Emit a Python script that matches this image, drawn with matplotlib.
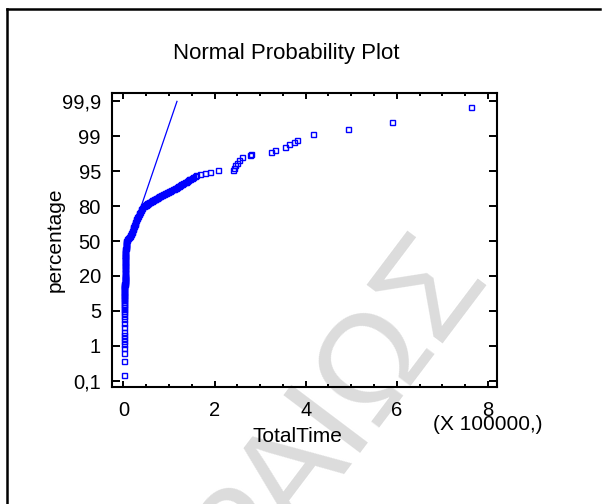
import numpy as np
import matplotlib
matplotlib.use("Agg")
import matplotlib.pyplot as plt
from matplotlib.lines import Line2D
from matplotlib.ticker import MultipleLocator, NullLocator
from statistics import NormalDist

# ---------------- data ----------------
# cumulative percentage of each observation and its TotalTime (in units of 100000)
pct_values = [
    0.15, 0.40, 0.64, 0.86, 1.08, 1.28, 1.48, 1.72, 1.94,
    2.5, 3, 3.5, 4, 4.5, 5, 5.5, 6, 6.5, 7, 7.5, 8, 8.5, 9, 9.5, 10,
    10.5, 11, 11.5, 12, 12.5, 13, 13.5, 14, 14.5, 15, 15.5, 16, 16.5, 17,
    17.5, 18, 18.5, 19, 19.5, 20,
    21, 22, 23, 24, 25, 26, 27, 28, 29, 30, 31, 32, 33, 34, 35, 36, 37, 38,
    39, 40, 41, 42, 43, 44, 45, 46, 47, 48, 49, 50,
    51, 52, 53, 54, 55, 56, 57, 58, 59, 60, 61, 62, 63, 64, 65, 66, 67, 68,
    69, 70, 71, 72, 73, 74, 75, 76, 77, 78, 79, 80,
    80.25, 80.5, 80.75, 81, 81.25, 81.5, 81.75, 82, 82.25, 82.5, 82.75, 83,
    83.25, 83.5, 83.75, 84, 84.25, 84.5, 84.75, 85, 85.25, 85.5, 85.75, 86,
    86.25, 86.5, 86.75, 87, 87.25, 87.5, 87.75, 88, 88.25, 88.5, 88.75, 89,
    89.25, 89.5, 89.75, 90, 90.25, 90.5, 90.75, 91, 91.25, 91.5, 91.75, 92,
    92.25, 92.5, 92.75, 93, 93.25, 93.5, 93.75, 94,
    94.3, 94.6, 94.85, 95.16,
    95.33, 95.70, 96.10, 96.46, 96.86, 97.21, 97.53, 97.61, 97.79, 98.02,
    98.26, 98.49, 98.67, 98.82, 99.12, 99.34, 99.59, 99.85,
]
time_values = [
    0.004, 0.004, 0.005, 0.005, 0.006, 0.006, 0.007, 0.007, 0.008,
    0.010, 0.011, 0.012, 0.013, 0.014, 0.015, 0.015, 0.016, 0.016, 0.017,
    0.017, 0.018, 0.018, 0.019, 0.019, 0.020,
    0.020, 0.021, 0.021, 0.022, 0.022, 0.023, 0.023, 0.023, 0.024, 0.024,
    0.025, 0.025, 0.025, 0.026, 0.026, 0.027, 0.027, 0.027, 0.028, 0.028,
    0.029, 0.029, 0.030, 0.030, 0.031, 0.031, 0.032, 0.032, 0.033, 0.033,
    0.034, 0.035, 0.036, 0.037, 0.038, 0.039, 0.040, 0.041, 0.042, 0.043,
    0.044, 0.046, 0.048, 0.050, 0.052, 0.055, 0.058, 0.061, 0.064, 0.068,
    0.072, 0.088, 0.104, 0.120, 0.136, 0.150, 0.162, 0.173, 0.184, 0.194,
    0.203, 0.212, 0.220, 0.228, 0.236, 0.244, 0.252, 0.260, 0.270, 0.280,
    0.290, 0.302, 0.316, 0.332, 0.347, 0.362, 0.377, 0.393, 0.412, 0.440,
    0.452, 0.465, 0.478, 0.490, 0.500, 0.510, 0.520, 0.530, 0.547, 0.565,
    0.582, 0.600, 0.617, 0.635, 0.652, 0.670, 0.685, 0.700, 0.717, 0.735,
    0.752, 0.770, 0.790, 0.810, 0.830, 0.850, 0.870, 0.890, 0.912, 0.935,
    0.957, 0.980, 1.005, 1.030, 1.055, 1.080, 1.105, 1.130, 1.150, 1.170,
    1.190, 1.210, 1.235, 1.260, 1.287, 1.315, 1.342, 1.370, 1.395, 1.420,
    1.445, 1.470, 1.500, 1.530, 1.565, 1.600,
    1.680, 1.800, 1.890, 2.080,
    2.404, 2.417, 2.454, 2.492, 2.527, 2.601, 2.782, 2.805, 3.243, 3.331,
    3.550, 3.638, 3.747, 3.807, 4.170, 4.937, 5.888, 7.620,
]

# fitted normal line (TotalTime, percentage)
fit_time = [0.0, 1.176]
fit_pct = [33.7, 99.9]

ytick_pct = [0.1, 1, 5, 20, 50, 80, 95, 99, 99.9]
ytick_labels = ["0,1", "1", "5", "20", "50", "80", "95", "99", "99,9"]
xtick_vals = [0, 2, 4, 6, 8]
xtick_labels = ["0", "2", "4", "6", "8"]

# ---------------- probability scale ----------------
nd = NormalDist()
tick_z = np.array([nd.inv_cdf(p / 100.0) for p in ytick_pct])
tick_k = np.arange(len(ytick_pct), dtype=float)
_inv = np.vectorize(lambda v: nd.inv_cdf(v / 100.0), otypes=[float])
_cdf = np.vectorize(lambda v: nd.cdf(v) * 100.0, otypes=[float])


def z_to_k(z):
    z = np.asarray(z, float)
    k = np.interp(z, tick_z, tick_k)
    k = np.where(z < tick_z[0], (z - tick_z[0]) / (tick_z[1] - tick_z[0]), k)
    k = np.where(z > tick_z[-1],
                 tick_k[-1] + (z - tick_z[-1]) / (tick_z[-1] - tick_z[-2]), k)
    return k


def k_to_z(k):
    k = np.asarray(k, float)
    z = np.interp(k, tick_k, tick_z)
    z = np.where(k < 0, tick_z[0] + k * (tick_z[1] - tick_z[0]), z)
    z = np.where(k > tick_k[-1],
                 tick_z[-1] + (k - tick_k[-1]) * (tick_z[-1] - tick_z[-2]), z)
    return z


def forward(p):
    p = np.clip(np.asarray(p, float), 1e-7, 100 - 1e-7)
    return z_to_k(_inv(p))


def inverse(k):
    return _cdf(k_to_z(k))


# ---------------- figure ----------------
plt.rcParams['font.family'] = ['Liberation Sans', 'DejaVu Sans']
W, H = 602, 504
fig = plt.figure(figsize=(W / 100, H / 100), dpi=100)

# frame lines (left and top of the page)
fig.add_artist(Line2D([7 / W, 7 / W], [0, 1 - 9 / H], transform=fig.transFigure,
                      color='black', lw=1.8))
fig.add_artist(Line2D([7 / W, 600 / W], [1 - 9 / H, 1 - 9 / H],
                      transform=fig.transFigure, color='black', lw=1.8))

# watermark
fig.text(336 / W, 1 - 410 / H, "ΡΑΙΩΣ", rotation=53, fontsize=100,
         color='#dcdcdc', ha='center', va='center', zorder=-5)

ax = fig.add_axes([112 / W, 1 - 387 / H, (497 - 112) / W, (387 - 93) / H])
ax.set_facecolor('none')
ax.set_yscale('function', functions=(forward, inverse))

ax.plot(fit_time, fit_pct, color='#0000ff', lw=0.9, zorder=2)
ax.plot(time_values, pct_values, linestyle='none', marker='s', markersize=3.6,
        markerfacecolor='none', markeredgecolor='#0000ff', markeredgewidth=1.0,
        zorder=3)

ax.set_xlim(-0.25, 8.2)
ax.set_ylim(float(inverse(-0.18)), float(inverse(8.24)))

ax.set_xticks(xtick_vals, xtick_labels)
ax.xaxis.set_minor_locator(MultipleLocator(0.5))
ax.set_yticks(ytick_pct, ytick_labels)
ax.yaxis.set_minor_locator(NullLocator())

for s in ax.spines.values():
    s.set_linewidth(1.5)
    s.set_color('black')

ax.tick_params(axis='both', which='both', direction='in', top=True, right=True,
               width=1.4, color='black', labelsize=14.5)
ax.tick_params(axis='x', which='major', length=4.3, pad=10)
ax.tick_params(axis='x', which='minor', length=2.4)
ax.tick_params(axis='y', which='major', length=5.8, pad=8)

fig.text(286 / W, 1 - 53 / H, "Normal Probability Plot", fontsize=16,
         ha='center', va='center')
fig.text(55 / W, 1 - 240 / H, "percentage", fontsize=15, rotation=90,
         ha='center', va='center')
fig.text(297 / W, 1 - 437 / H, "TotalTime", fontsize=15,
         ha='center', va='center')
fig.text(488 / W, 1 - 424 / H, "(X 100000,)", fontsize=15,
         ha='center', va='center')

fig.savefig("out.png", dpi=100)
